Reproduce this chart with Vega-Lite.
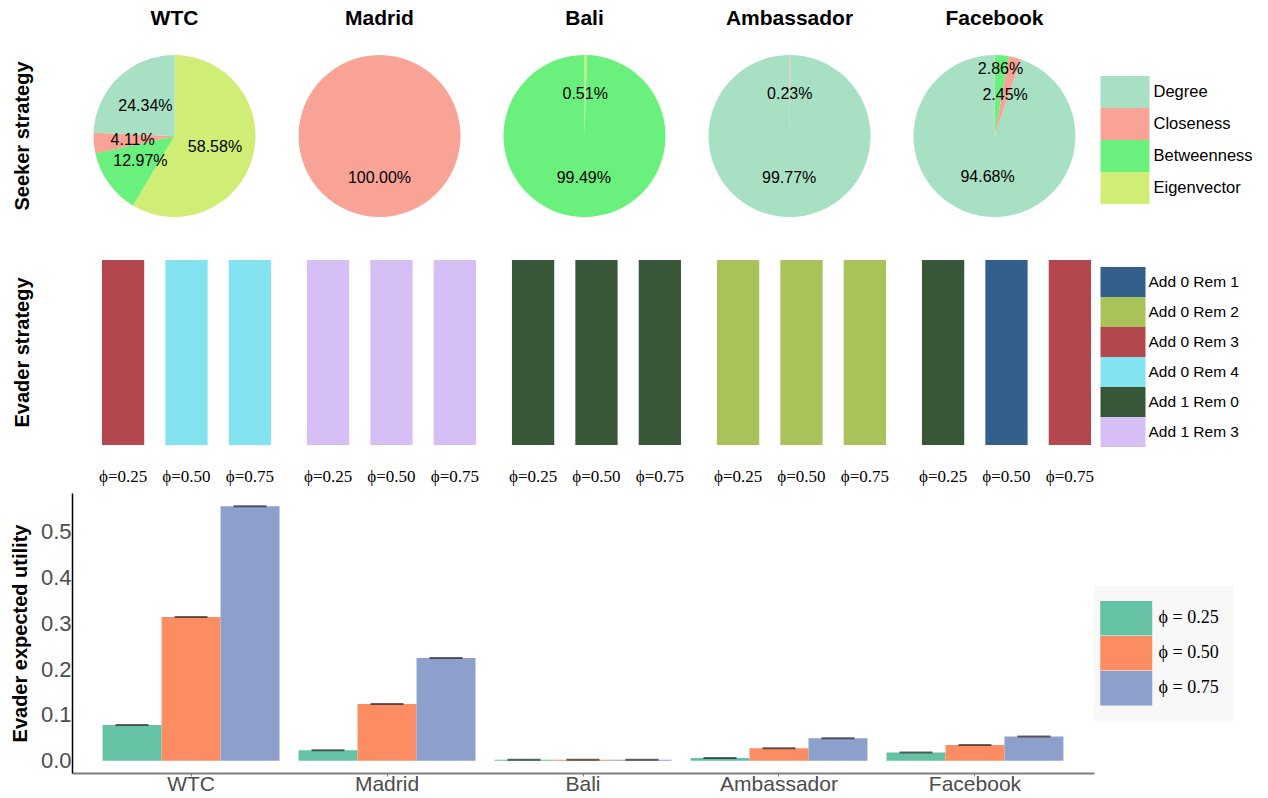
{
  "$schema": "https://vega.github.io/schema/vega-lite/v6.json",
  "padding": {"left": 10, "top": 8, "right": 5, "bottom": 5},
  "background": "white",
  "config": {"view": {"stroke": null}, "font": "Liberation Sans"},
  "datasets": {
    "seek": [
      {"row": "Seeker strategy", "network": "WTC", "strategy": "Eigenvector", "k": 1, "p": 0.5858},
      {"row": "Seeker strategy", "network": "WTC", "strategy": "Betweenness", "k": 2, "p": 0.1297},
      {"row": "Seeker strategy", "network": "WTC", "strategy": "Closeness", "k": 3, "p": 0.0411},
      {"row": "Seeker strategy", "network": "WTC", "strategy": "Degree", "k": 4, "p": 0.2434},
      {"row": "Seeker strategy", "network": "Madrid", "strategy": "Closeness", "k": 3, "p": 1.0},
      {"row": "Seeker strategy", "network": "Bali", "strategy": "Eigenvector", "k": 1, "p": 0.0051},
      {"row": "Seeker strategy", "network": "Bali", "strategy": "Betweenness", "k": 2, "p": 0.9949},
      {"row": "Seeker strategy", "network": "Ambassador", "strategy": "Closeness", "k": 3, "p": 0.0023},
      {"row": "Seeker strategy", "network": "Ambassador", "strategy": "Degree", "k": 4, "p": 0.9977},
      {"row": "Seeker strategy", "network": "Facebook", "strategy": "Betweenness", "k": 2, "p": 0.0286},
      {"row": "Seeker strategy", "network": "Facebook", "strategy": "Closeness", "k": 3, "p": 0.0245},
      {"row": "Seeker strategy", "network": "Facebook", "strategy": "Degree", "k": 4, "p": 0.9468}
    ],
    "evade": [
      {"row": "Evader strategy", "network": "WTC", "phi": "0.25", "strat": "Add 0 Rem 3"},
      {"row": "Evader strategy", "network": "WTC", "phi": "0.50", "strat": "Add 0 Rem 4"},
      {"row": "Evader strategy", "network": "WTC", "phi": "0.75", "strat": "Add 0 Rem 4"},
      {"row": "Evader strategy", "network": "Madrid", "phi": "0.25", "strat": "Add 1 Rem 3"},
      {"row": "Evader strategy", "network": "Madrid", "phi": "0.50", "strat": "Add 1 Rem 3"},
      {"row": "Evader strategy", "network": "Madrid", "phi": "0.75", "strat": "Add 1 Rem 3"},
      {"row": "Evader strategy", "network": "Bali", "phi": "0.25", "strat": "Add 1 Rem 0"},
      {"row": "Evader strategy", "network": "Bali", "phi": "0.50", "strat": "Add 1 Rem 0"},
      {"row": "Evader strategy", "network": "Bali", "phi": "0.75", "strat": "Add 1 Rem 0"},
      {"row": "Evader strategy", "network": "Ambassador", "phi": "0.25", "strat": "Add 0 Rem 2"},
      {"row": "Evader strategy", "network": "Ambassador", "phi": "0.50", "strat": "Add 0 Rem 2"},
      {"row": "Evader strategy", "network": "Ambassador", "phi": "0.75", "strat": "Add 0 Rem 2"},
      {"row": "Evader strategy", "network": "Facebook", "phi": "0.25", "strat": "Add 1 Rem 0"},
      {"row": "Evader strategy", "network": "Facebook", "phi": "0.50", "strat": "Add 0 Rem 1"},
      {"row": "Evader strategy", "network": "Facebook", "phi": "0.75", "strat": "Add 0 Rem 3"}
    ],
    "util": [
      {"network": "WTC", "phi": "0.25", "u": 0.078},
      {"network": "WTC", "phi": "0.50", "u": 0.314},
      {"network": "WTC", "phi": "0.75", "u": 0.556},
      {"network": "Madrid", "phi": "0.25", "u": 0.0225},
      {"network": "Madrid", "phi": "0.50", "u": 0.124},
      {"network": "Madrid", "phi": "0.75", "u": 0.2245},
      {"network": "Bali", "phi": "0.25", "u": 0.002},
      {"network": "Bali", "phi": "0.50", "u": 0.002},
      {"network": "Bali", "phi": "0.75", "u": 0.002},
      {"network": "Ambassador", "phi": "0.25", "u": 0.006},
      {"network": "Ambassador", "phi": "0.50", "u": 0.027},
      {"network": "Ambassador", "phi": "0.75", "u": 0.049},
      {"network": "Facebook", "phi": "0.25", "u": 0.018},
      {"network": "Facebook", "phi": "0.50", "u": 0.034},
      {"network": "Facebook", "phi": "0.75", "u": 0.053}
    ]
  },
  "vconcat": [
    {
      "vconcat": [
        {
          "data": {"name": "seek"},
          "facet": {
            "row": {"field": "row", "type": "nominal", "header": {"title": null, "labelAngle": -90, "labelFont": "Liberation Sans", "labelFontSize": 20, "labelFontWeight": "bold", "labelColor": "black", "labelPadding": 29.5}},
            "column": {"field": "network", "type": "nominal", "sort": ["WTC", "Madrid", "Bali", "Ambassador", "Facebook"], "header": {"title": null, "labelFont": "Liberation Sans", "labelFontSize": 21, "labelFontWeight": "bold", "labelColor": "black", "labelPadding": 0}}
          },
          "spacing": {"column": 0, "row": 0},
          "spec": {
            "width": 205,
            "height": 214,
            "encoding": {
              "theta": {"field": "p", "type": "quantitative", "stack": true},
              "order": {"field": "k", "type": "quantitative"}
            },
            "layer": [
              {
                "mark": {"type": "arc", "outerRadius": 81},
                "encoding": {
                  "color": {
                    "field": "strategy", "type": "nominal",
                    "scale": {"domain": ["Degree", "Closeness", "Betweenness", "Eigenvector"], "range": ["#a8e0c4", "#f8a396", "#69f07d", "#d0ee76"]},
                    "legend": {"title": " ", "titleFontSize": 10, "titlePadding": 37, "symbolType": "M-1.53,-1H1.53V1H-1.53Z", "symbolSize": 1024, "symbolStrokeWidth": 0, "rowPadding": 0, "labelOffset": 12.5, "labelFont": "Liberation Sans", "labelFontSize": 16.5, "labelColor": "black", "offset": 11.5}
                  }
                }
              },
              {
                "mark": {"type": "text", "font": "Liberation Sans", "fontSize": 16, "radius": 42},
                "encoding": {
                  "detail": {"field": "strategy", "type": "nominal"},
                  "color": {"value": "black"},
                  "text": {"condition": {"test": "!(datum.network == 'Facebook' && datum.strategy == 'Betweenness')", "field": "p", "type": "quantitative", "format": ".2%"}, "value": ""}
                }
              },
              {
                "mark": {"type": "text", "font": "Liberation Sans", "fontSize": 16, "radius": 67},
                "encoding": {
                  "detail": {"field": "strategy", "type": "nominal"},
                  "color": {"value": "black"},
                  "text": {"condition": {"test": "datum.network == 'Facebook' && datum.strategy == 'Betweenness'", "field": "p", "type": "quantitative", "format": ".2%"}, "value": ""}
                }
              }
            ]
          }
        },
        {
          "data": {"name": "evade"},
          "facet": {
            "row": {"field": "row", "type": "nominal", "header": {"title": null, "labelAngle": -90, "labelFont": "Liberation Sans", "labelFontSize": 20, "labelFontWeight": "bold", "labelColor": "black", "labelPadding": 29.5}},
            "column": {"field": "network", "type": "nominal", "sort": ["WTC", "Madrid", "Bali", "Ambassador", "Facebook"], "header": {"title": null, "labels": false}}
          },
          "spacing": {"column": 0, "row": 0},
          "spec": {
            "width": 204.4,
            "height": 185,
            "mark": {"type": "bar"},
            "encoding": {
              "x": {"field": "phi", "type": "nominal", "scale": {"paddingInner": 0.333, "paddingOuter": 0.279, "align": 0.847}, "axis": {"title": null, "labelExpr": "'ϕ=' + datum.label", "labelAngle": 0, "domain": false, "ticks": false, "labelPadding": 23, "labelFont": "Liberation Serif", "labelFontSize": 17, "labelColor": "black"}},
              "y": {"datum": 1, "type": "quantitative", "scale": {"domain": [0, 1]}, "axis": null},
              "color": {
                "field": "strat", "type": "nominal",
                "scale": {"domain": ["Add 0 Rem 1", "Add 0 Rem 2", "Add 0 Rem 3", "Add 0 Rem 4", "Add 1 Rem 0", "Add 1 Rem 3"], "range": ["#335f8c", "#a9c25a", "#b3474d", "#83e3f0", "#385739", "#d6bff4"]},
                "legend": {"title": " ", "titleFontSize": 1, "titlePadding": 6, "symbolType": "M-1.5,-1H1.5V1H-1.5Z", "symbolSize": 900, "symbolStrokeWidth": 0, "rowPadding": 0, "labelOffset": 10.5, "labelFont": "Liberation Sans", "labelFontSize": 15.5, "labelColor": "black", "offset": 10.5}
              }
            }
          }
        }
      ],
      "spacing": 17,
      "resolve": {"scale": {"color": "independent"}, "legend": {"color": "independent"}}
    },
    {
      "data": {"name": "util"},
      "width": 1022,
      "height": 280,
      "encoding": {
        "x": {"field": "network", "type": "nominal", "sort": ["WTC", "Madrid", "Bali", "Ambassador", "Facebook"], "scale": {"paddingInner": 0.097, "paddingOuter": 0.156}, "axis": {"title": null, "labelAngle": 0, "labelFont": "Liberation Sans", "labelFontSize": 21, "labelColor": "#4d4d4d", "domainColor": "#7f7f7f", "domainWidth": 2, "tickColor": "#7f7f7f", "tickSize": 3, "labelPadding": -3}},
        "y": {"field": "u", "type": "quantitative", "scale": {"domain": [-0.027, 0.585], "nice": false, "zero": false}, "axis": {"title": "Evader expected utility", "values": [0, 0.1, 0.2, 0.3, 0.4, 0.5], "format": ".1f", "grid": false, "ticks": false, "domainColor": "black", "domainWidth": 1.5, "labelFont": "Liberation Sans", "labelFontSize": 22, "labelColor": "#4d4d4d", "labelPadding": 1, "titleFont": "Liberation Sans", "titleFontSize": 20, "titleFontWeight": "bold", "titleColor": "black", "titlePadding": 10}},
        "xOffset": {"field": "phi", "type": "nominal"}
      },
      "layer": [
        {
          "mark": {"type": "bar"},
          "encoding": {
            "color": {
              "field": "phi", "type": "nominal",
              "scale": {"domain": ["0.25", "0.50", "0.75"], "range": ["#66c2a5", "#fc8d62", "#8da0cb"]},
              "legend": {"title": null, "orient": "none", "legendX": 1022, "legendY": 93, "labelExpr": "'ϕ = ' + datum.label", "labelFont": "Liberation Serif", "labelFontSize": 18, "labelColor": "black", "symbolType": "M-1.507,-1H1.507V1H-1.507Z", "symbolSize": 1190, "symbolStrokeWidth": 0, "rowPadding": 0, "labelOffset": 14.75, "fillColor": "#f8f8f8", "padding": 14.75}
            }
          }
        },
        {
          "mark": {"type": "tick", "color": "#222222", "size": 33, "thickness": 2}
        }
      ]
    }
  ],
  "spacing": 9,
  "resolve": {"scale": {"color": "independent"}, "legend": {"color": "independent"}}
}
